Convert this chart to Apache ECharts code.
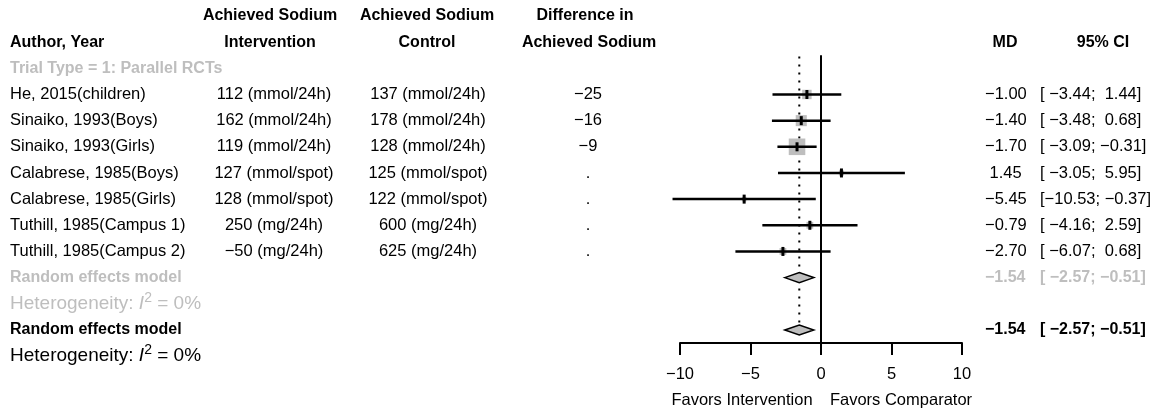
<!DOCTYPE html>
<html>
<head>
<meta charset="utf-8">
<script src="https://cdn.jsdelivr.net/npm/echarts@6/dist/echarts.min.js"></script>
<style>
  html, body { margin: 0; padding: 0; background: #fff; }
  #main { width: 1159px; height: 417px; }
</style>
</head>
<body>
<div id="main"></div>
<script>
// study level data
var studies = ['He, 2015(children)', 'Sinaiko, 1993(Boys)', 'Sinaiko, 1993(Girls)', 'Calabrese, 1985(Boys)',
  'Calabrese, 1985(Girls)', 'Tuthill, 1985(Campus 1)', 'Tuthill, 1985(Campus 2)'];
var intervention = ['112 (mmol/24h)', '162 (mmol/24h)', '119 (mmol/24h)', '127 (mmol/spot)',
  '128 (mmol/spot)', '250 (mg/24h)', '\u221250 (mg/24h)'];
var control = ['137 (mmol/24h)', '178 (mmol/24h)', '128 (mmol/24h)', '125 (mmol/spot)',
  '122 (mmol/spot)', '600 (mg/24h)', '625 (mg/24h)'];
var difference = ['\u221225', '\u221216', '\u22129', '.', '.', '.', '.'];
var md = [-1.00, -1.40, -1.70, 1.45, -5.45, -0.79, -2.70];
var lower = [-3.44, -3.48, -3.09, -3.05, -10.53, -4.16, -6.07];
var upper = [1.44, 0.68, -0.31, 5.95, -0.37, 2.59, 0.68];
var weights = [14.2, 19.6, 43.9, 4.2, 3.3, 7.4, 7.4];
// random effects model
var pooledMD = -1.54;
var pooledLower = -2.57;
var pooledUpper = -0.51;
var xTicks = [-10, -5, 0, 5, 10];

var FONT = 'Liberation Sans, Arial, Helvetica, sans-serif';
var GREY = '#bebebe';

function num(v, w) {
  var s = v.toFixed(2);
  while (s.length < w) s = ' ' + s;
  return s.replace('-', '\u2212');
}
function ci(lo, hi) {
  return '[' + num(lo, 6) + '; ' + num(hi, 5) + ']';
}

// rows: 0-1 header, 2 subgroup title, 3..9 studies, 10-11 subgroup summary, 12-13 overall
var studyRows = studies.map(function (s, i) { return i + 3; });
var subRow = 10, allRow = 12;

var texts = [];
function txt(x, row, text, opt) {
  opt = opt || {};
  texts.push({
    x: x, row: row, text: text,
    align: opt.align || 'left',
    weight: opt.bold ? 'bold' : 'normal',
    color: opt.color || '#000',
    size: opt.size || (opt.bold ? 16 : 16.5),
    rich: opt.rich
  });
}

// headers
txt(270, 0, 'Achieved Sodium', { align: 'center', bold: true });
txt(427, 0, 'Achieved Sodium', { align: 'center', bold: true });
txt(585, 0, 'Difference in', { align: 'center', bold: true });
txt(10, 1, 'Author, Year', { bold: true });
txt(270, 1, 'Intervention', { align: 'center', bold: true });
txt(427, 1, 'Control', { align: 'center', bold: true });
txt(589, 1, 'Achieved Sodium', { align: 'center', bold: true });
txt(1005, 1, 'MD', { align: 'center', bold: true });
txt(1103, 1, '95% CI', { align: 'center', bold: true });
txt(10, 2, 'Trial Type = 1: Parallel RCTs', { bold: true, color: GREY });

studies.forEach(function (s, i) {
  var r = studyRows[i];
  txt(10, r, s);
  txt(274, r, intervention[i], { align: 'center' });
  txt(428, r, control[i], { align: 'center' });
  txt(588, r, difference[i], { align: 'center' });
  txt(985, r, num(md[i], 5));
  txt(1040, r, ci(lower[i], upper[i]));
});

function hetero(row, color) {
  var rich = {
    b: { fontSize: 19, fontFamily: FONT, color: color },
    i: { fontSize: 19, fontFamily: FONT, fontStyle: 'italic', color: color },
    s: { fontSize: 14, fontFamily: FONT, color: color, padding: [0, 0, 12, 0] }
  };
  txt(10, row, '{b|Heterogeneity: }{i|I}{s|2}{b| = 0%}', { color: color, size: 19, rich: rich });
}
txt(10, subRow, 'Random effects model', { bold: true, color: GREY });
txt(985, subRow, num(pooledMD, 5), { bold: true, color: GREY });
txt(1040, subRow, ci(pooledLower, pooledUpper), { bold: true, color: GREY });
hetero(subRow + 1, GREY);
txt(10, allRow, 'Random effects model', { bold: true });
txt(985, allRow, num(pooledMD, 5), { bold: true });
txt(1040, allRow, ci(pooledLower, pooledUpper), { bold: true });
hetero(allRow + 1, '#000');
txt(742, 14.68, 'Favors Intervention', { align: 'center' });
txt(901, 14.68, 'Favors Comparator', { align: 'center' });

var chart = echarts.init(document.getElementById('main'), null, { renderer: 'canvas' });

var option = {
  animation: false,
  backgroundColor: '#fff',
  textStyle: { fontFamily: FONT },
  grid: [
    { left: 680, top: 16, width: 282, height: 327 },
    { left: 0, top: 16, width: 1159, height: 327 }
  ],
  xAxis: [
    {
      type: 'value', gridIndex: 0, min: -10, max: 10, interval: 5, position: 'bottom',
      axisLine: { show: true, onZero: false, lineStyle: { color: '#000', width: 2 } },
      axisTick: { show: true, length: 12, lineStyle: { color: '#000', width: 2 } },
      axisLabel: {
        color: '#000', fontSize: 16.5, fontFamily: FONT, margin: 23,
        formatter: function (v) { return xTicks.indexOf(v) >= 0 ? String(v).replace('-', '\u2212') : ''; }
      },
      splitLine: { show: false }
    },
    { type: 'value', gridIndex: 1, min: 0, max: 1159, show: false }
  ],
  yAxis: [
    { type: 'value', gridIndex: 0, min: 0, max: 12.5, inverse: true, show: false },
    { type: 'value', gridIndex: 1, min: 0, max: 12.5, inverse: true, show: false }
  ],
  series: [
    {
      // line of no effect
      type: 'line', xAxisIndex: 0, yAxisIndex: 0, symbol: 'none', silent: true, z: 1,
      lineStyle: { color: '#000', width: 2 },
      data: [[0, 1.5], [0, 12.5]]
    },
    {
      // pooled estimate
      type: 'line', xAxisIndex: 0, yAxisIndex: 0, symbol: 'none', silent: true, z: 1,
      lineStyle: { color: '#000', width: 2, type: [2, 6] },
      data: [[pooledMD, 1.55], [pooledMD, 12.2]]
    },
    {
      // study weight squares
      type: 'scatter', xAxisIndex: 0, yAxisIndex: 0, symbol: 'rect', silent: true, z: 2,
      itemStyle: { color: GREY, opacity: 1 },
      symbolSize: function (v, p) { return 2.5 * Math.sqrt(weights[p.dataIndex]); },
      data: md.map(function (m, i) { return [m, studyRows[i]]; })
    },
    {
      // confidence intervals
      type: 'custom', xAxisIndex: 0, yAxisIndex: 0, silent: true, clip: false, z: 3,
      data: md.map(function (m, i) { return [lower[i], upper[i], studyRows[i]]; }),
      renderItem: function (params, api) {
        var a = api.coord([api.value(0), api.value(2)]);
        var b = api.coord([api.value(1), api.value(2)]);
        return { type: 'line', shape: { x1: a[0], y1: a[1], x2: b[0], y2: b[1] },
          style: { stroke: '#000', lineWidth: 2.5 } };
      }
    },
    {
      // point estimates
      type: 'scatter', xAxisIndex: 0, yAxisIndex: 0, symbol: 'rect', silent: true, z: 4,
      symbolSize: [3, 9], itemStyle: { color: '#000', opacity: 1 },
      data: md.map(function (m, i) { return [m, studyRows[i]]; })
    },
    {
      // summary diamonds
      type: 'custom', xAxisIndex: 0, yAxisIndex: 0, silent: true, clip: false, z: 5,
      data: [[pooledLower, pooledMD, pooledUpper, subRow], [pooledLower, pooledMD, pooledUpper, allRow]],
      renderItem: function (params, api) {
        var r = api.value(3);
        var l = api.coord([api.value(0), r]);
        var m = api.coord([api.value(1), r]);
        var u = api.coord([api.value(2), r]);
        var h = 5;
        return { type: 'polygon',
          shape: { points: [[l[0], l[1]], [m[0], m[1] - h], [u[0], u[1]], [m[0], m[1] + h]] },
          style: { fill: GREY, stroke: '#000', lineWidth: 1.5 } };
      }
    },
    {
      // table text
      type: 'custom', xAxisIndex: 1, yAxisIndex: 1, silent: true, clip: false, z: 6,
      data: texts.map(function (t) { return [t.x, t.row]; }),
      renderItem: function (params, api) {
        var t = texts[params.dataIndex];
        var p = api.coord([api.value(0), api.value(1)]);
        var style = {
          text: t.text, fill: t.color, align: t.align, verticalAlign: 'middle',
          fontSize: t.size, fontWeight: t.weight, fontFamily: FONT
        };
        if (t.rich) style.rich = t.rich;
        return { type: 'text', x: p[0], y: p[1], style: style };
      }
    }
  ]
};

chart.setOption(option);
</script>
</body>
</html>
